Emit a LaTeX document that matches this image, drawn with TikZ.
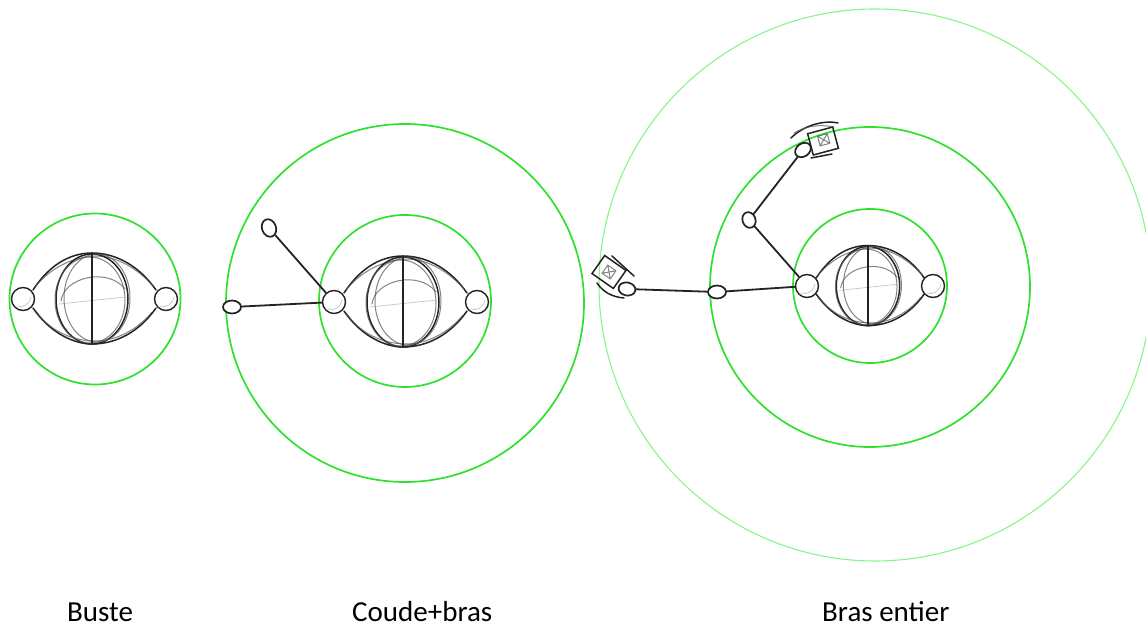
\documentclass[tikz,border=0pt]{standalone}
\usepackage{fontspec}
\setmainfont{Carlito}
\usetikzlibrary{shapes.geometric}
\definecolor{ringgreen}{RGB}{45,225,45}
\definecolor{faintgreen}{RGB}{135,245,135}
\definecolor{pencil}{RGB}{35,35,35}

\begin{document}
\begin{tikzpicture}[x=1pt,y=-1pt,
  ring/.style={circle, draw=ringgreen, line width=1.7pt, inner sep=0pt, minimum size=#1},
  farring/.style={circle, draw=faintgreen, line width=1.1pt, inner sep=0pt, minimum size=#1},
  sketch/.style={draw=pencil, line width=1.5pt, line cap=round},
  soft/.style={draw=pencil!75, line width=1pt, line cap=round, opacity=0.75},
  faint/.style={draw=pencil!45, line width=0.7pt, line cap=round, opacity=0.6},
  joint/.style={circle, draw=pencil, fill=white, line width=1.4pt, inner sep=0pt, minimum size=23pt},
  blob/.style={ellipse, draw=pencil, fill=white, line width=1.7pt, inner sep=0pt},
  limb/.style={draw=pencil, line width=1.8pt, line cap=round},
  caption/.style={anchor=base west, inner sep=0pt, font=\fontsize{29}{33}\selectfont},
  pics/torso/.style={code={
    % outline running from shoulder to shoulder, traced twice
    \draw[sketch] (-59,-9) .. controls (-40,-38) and (-18,-46) .. (0,-46) .. controls (25,-46) and (48,-32) .. (64,-9);
    \draw[soft] (-57,-12) .. controls (-38,-35) and (-15,-42) .. (3,-43) .. controls (25,-43) and (46,-30) .. (61,-13);
    \draw[sketch] (-59,9) .. controls (-42,34) and (-18,45) .. (0,45) .. controls (25,45) and (48,32) .. (64,9);
    \draw[soft] (-56,12) .. controls (-40,35) and (-15,42) .. (3,42) .. controls (25,42) and (46,30) .. (60,13);
    % chest ball
    \draw[sketch] (0,0) ellipse [x radius=36, y radius=45];
    \draw[soft] (5,-1) ellipse [x radius=33, y radius=44];
    \draw[soft] (-2,1) ellipse [x radius=35, y radius=43];
    \draw[soft] (-31,2) .. controls (-28,-22) and (16,-32) .. (33,-10);
    \draw[faint] (-33,5) -- (34,-2);
    \draw[sketch] (0,-46) -- (0,45);
  }},
  pics/ballshade/.style={code={
    \draw[faint] (-6,7) .. controls (0,9) and (6,6) .. (8,-2);
  }}
]
\useasboundingbox (0,0) rectangle (1146,628);
\clip (0,0) rectangle (1146,628);

% ---------- reach rings ----------
\node[ring=171pt] (r1) at (95,299) {};
\node[ring=172pt] (r2in) at (405,301) {};
\node[ring=358pt] (r2out) at (405,303) {};
\node[ring=154pt] (r3in) at (870,286) {};
\node[ring=320pt] (r3mid) at (870,287) {};
\node[farring=552pt] (r3out) at (875,285) {};

% ---------- bust only ----------
\pic at (92,299) {torso};
\node[joint] (b1l) at (23,299) {};
\node[joint] (b1r) at (166,299) {};
\pic at (b1l) {ballshade};
\pic at (b1r) {ballshade};

% ---------- elbow and forearm ----------
\pic at (403,302) {torso};
\node[joint] (b2l) at (334,302) {};
\node[joint] (b2r) at (477,302) {};
\pic at (b2l) {ballshade};
\pic at (b2r) {ballshade};
\node[blob, minimum width=14pt, minimum height=18pt, rotate=20] (h2up) at (269,228) {};
\node[blob, minimum width=18pt, minimum height=13pt] (h2side) at (232,307) {};
\draw[limb] (b2l) -- (h2up);
\draw[limb] (b2l) -- (h2side);

% ---------- whole arm ----------
\pic[scale=0.88] at (868,286) {torso};
\node[joint] (b3l) at (807,286) {};
\node[joint] (b3r) at (933,286) {};
\pic at (b3l) {ballshade};
\pic at (b3r) {ballshade};
\node[blob, minimum width=13pt, minimum height=16pt, rotate=20] (e3up) at (749,220) {};
\node[blob, minimum width=18pt, minimum height=13pt] (e3side) at (717,292) {};

% gripper above
\begin{scope}[shift={(823,141)}, rotate=15]
  \draw[sketch] (-13,-11) rectangle (13,11);
  \draw[soft] (-4,-6) -- (6,4) (-4,4) -- (6,-6) (-4,-6) rectangle (6,4);
\end{scope}
\draw[sketch] (791,138) .. controls (804,125) and (824,120) .. (838,123);
\draw[soft] (794,133) .. controls (806,126) and (820,124) .. (834,127);
\draw[sketch] (811,158) -- (832,154);
\node[blob, minimum width=17pt, minimum height=13pt, rotate=35] (h3up) at (803,150) {};

% gripper at the side
\begin{scope}[shift={(609,272)}, rotate=-35]
  \draw[sketch] (-13,-11) rectangle (13,11);
  \draw[soft] (-5,-5) -- (5,5) (-5,5) -- (5,-5) (-5,-5) rectangle (5,5);
\end{scope}
\draw[sketch] (612,256) -- (634,276);
\draw[sketch] (597,283) .. controls (603,292) and (612,297) .. (624,298);
\node[blob, minimum width=17pt, minimum height=13pt, rotate=-10] (h3side) at (627,289) {};

\draw[limb] (b3l) -- (e3up);
\draw[limb] (e3up) -- (h3up);
\draw[limb] (b3l) -- (e3side);
\draw[limb] (e3side) -- (h3side);

% ---------- captions ----------
\node[caption] (t1) at (67,621) {Buste};
\node[caption] (t2) at (352,621) {Coude+bras};
\node[caption] (t3) at (822,621) {Bras entier};
\end{tikzpicture}
\end{document}
